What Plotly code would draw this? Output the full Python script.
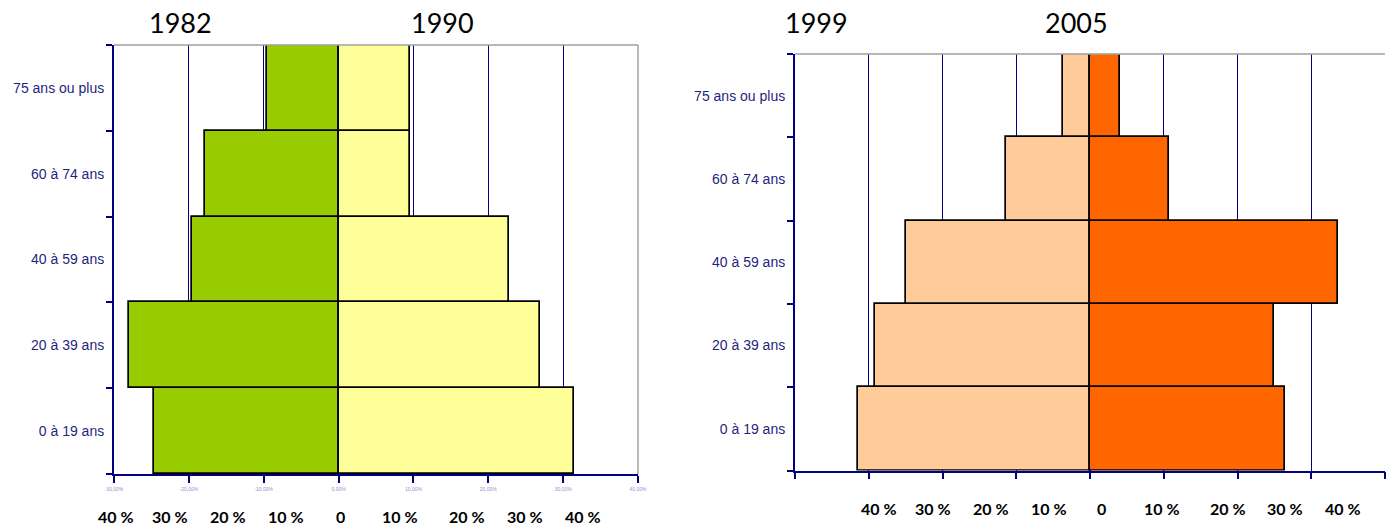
import plotly.graph_objects as go

# Age pyramid data (share of population, %)
age_groups = ["0 à 19 ans", "20 à 39 ans", "40 à 59 ans", "60 à 74 ans", "75 ans ou plus"]
pct_1982 = [24.7, 28.0, 19.6, 17.9, 9.6]
pct_1990 = [31.4, 26.9, 22.7, 9.5, 9.5]
pct_1999 = [31.4, 29.1, 25.0, 11.4, 3.6]
pct_2005 = [26.5, 25.0, 33.6, 10.7, 4.1]

year_titles = ["1982", "1990", "1999", "2005"]
scale_labels = ["40 %", "30 %", "20 %", "10 %", "0", "10 %", "20 %", "30 %", "40 %"]

left_tick_vals = [-30, -20, -10, 0, 10, 20, 30, 40]
left_tick_text = ["-30,00%", "-20,00%", "-10,00%", "0,00%", "10,00%", "20,00%", "30,00%", "40,00%"]
right_tick_vals = [-40, -30, -20, -10, 0, 10, 20, 30, 40]

W, H = 1394, 526
NAVY = "#000080"
LABEL_BLUE = "#1f1f80"
BORDER_GREY = "#a0a0a0"


def px_x(x):
    return x / W


def px_y(y):
    return 1 - y / H


fig = go.Figure()

bar_line = dict(color="black", width=1.7)

# Left pyramid: 1982 (left side) vs 1990 (right side)
fig.add_trace(go.Bar(y=age_groups, x=[-v for v in pct_1982], orientation="h", width=1,
                     marker=dict(color="#99CC00", line=bar_line), xaxis="x", yaxis="y",
                     hoverinfo="skip", showlegend=False))
fig.add_trace(go.Bar(y=age_groups, x=pct_1990, orientation="h", width=1,
                     marker=dict(color="#FFFF99", line=bar_line), xaxis="x", yaxis="y",
                     hoverinfo="skip", showlegend=False))

# Right pyramid: 1999 (left side) vs 2005 (right side)
fig.add_trace(go.Bar(y=age_groups, x=[-v for v in pct_1999], orientation="h", width=1,
                     marker=dict(color="#FFCC99", line=bar_line), xaxis="x2", yaxis="y2",
                     hoverinfo="skip", showlegend=False))
fig.add_trace(go.Bar(y=age_groups, x=pct_2005, orientation="h", width=1,
                     marker=dict(color="#FF6600", line=bar_line), xaxis="x2", yaxis="y2",
                     hoverinfo="skip", showlegend=False))

xaxis_common = dict(
    showline=True, linecolor=NAVY, linewidth=1.5,
    ticks="outside", ticklen=7, tickcolor=NAVY, tickwidth=1.5,
    showgrid=True, gridcolor=NAVY, gridwidth=1,
    zeroline=True, zerolinecolor=NAVY, zerolinewidth=1.5,
    automargin=False, fixedrange=True,
)
yaxis_common = dict(
    type="category", categoryorder="array", categoryarray=age_groups,
    range=[-0.5, 4.5],
    showline=True, linecolor=NAVY, linewidth=2,
    ticks="outside", ticklen=6, tickcolor=NAVY, tickwidth=1.5,
    tickson="boundaries", showgrid=False, ticklabelstandoff=5,
    tickfont=dict(family="Liberation Sans, Arial, sans-serif", size=14, color=LABEL_BLUE),
    automargin=False, fixedrange=True,
)

fig.update_layout(
    width=W, height=H, autosize=False,
    margin=dict(l=0, r=0, t=0, b=0, pad=0, autoexpand=False),
    paper_bgcolor="white", plot_bgcolor="white",
    barmode="overlay", bargap=0,
    xaxis=dict(xaxis_common, domain=[px_x(114), px_x(638)], range=[-30, 40],
               tickvals=left_tick_vals, ticktext=left_tick_text, ticklabelstandoff=2,
               tickfont=dict(family="Liberation Sans, Arial, sans-serif", size=5, color="#8f8fd0"),
               anchor="y"),
    yaxis=dict(yaxis_common, domain=[px_y(474), px_y(45)], anchor="x"),
    xaxis2=dict(xaxis_common, domain=[px_x(795), px_x(1385)], range=[-40, 40],
                tickvals=right_tick_vals, showticklabels=False, anchor="y2"),
    yaxis2=dict(yaxis_common, domain=[px_y(470.5), px_y(54)], anchor="x2"),
)

# Grey plot-area frame on top and right
shapes = []
for xr, yr, right_side in (("x", "y", True), ("x2", "y2", False)):
    shapes.append(dict(type="line", xref=f"{xr} domain", yref=f"{yr} domain",
                       x0=0, x1=1, y0=1, y1=1, line=dict(color=BORDER_GREY, width=1.5)))
    if right_side:
        shapes.append(dict(type="line", xref=f"{xr} domain", yref=f"{yr} domain",
                           x0=1, x1=1, y0=0, y1=1, line=dict(color=BORDER_GREY, width=1.5)))
fig.update_layout(shapes=shapes)

annotations = []

# Year titles
title_pos = [(180, 22), (442, 22), (816, 22), (1076, 22)]
for text, (x, y) in zip(year_titles, title_pos):
    annotations.append(dict(text=text, x=px_x(x), y=px_y(y), xref="paper", yref="paper",
                            showarrow=False, xanchor="center", yanchor="middle",
                            font=dict(family="Lato, Carlito, sans-serif", size=27, color="black")))

# Percentage scale written under each pyramid
left_label_x = [116, 170, 228, 286, 340, 400, 467, 525, 583]
right_label_x = [879, 933, 991, 1049, 1101, 1162, 1228, 1285, 1343]
for xs, y in ((left_label_x, 516), (right_label_x, 508)):
    for text, x in zip(scale_labels, xs):
        annotations.append(dict(text=text, x=px_x(x), y=px_y(y), xref="paper", yref="paper",
                                showarrow=False, xanchor="center", yanchor="middle",
                                font=dict(family="Lato, Carlito, sans-serif", size=16,
                                          color="black", weight="bold")))

fig.update_layout(annotations=annotations)

fig.write_html("out.html", config={"responsive": False})
